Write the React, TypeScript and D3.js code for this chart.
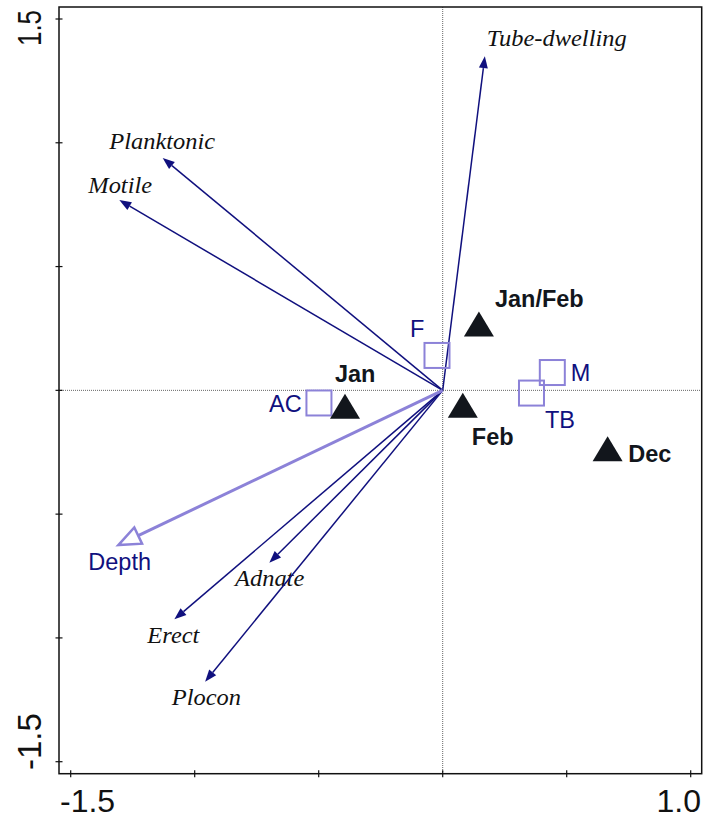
import React from "react";
import * as d3 from "d3";

// ---- data ----
const arrowNames = ["Tube-dwelling", "Planktonic", "Motile", "Adnate", "Erect", "Plocon"];
const arrowX = [0.17, -1.129, -1.304, -0.699, -1.082, -0.958];
const arrowY = [1.35, 0.939, 0.769, -0.696, -0.925, -1.177];

const envName = "Depth";
const envX = -1.308;
const envY = -0.625;

const monthNames = ["Jan/Feb", "Jan", "Feb", "Dec"];
const monthX = [0.146, -0.394, 0.081, 0.665];
const monthY = [0.267, -0.065, -0.061, -0.237];

const siteNames = ["F", "AC", "M", "TB"];
const siteX = [-0.023, -0.499, 0.442, 0.358];
const siteY = [0.141, -0.051, 0.072, -0.011];

const xTicks = [-1.5, -1.0, -0.5, 0, 0.5, 1.0];
const yTicks = [-1.5, -1.0, -0.5, 0, 0.5, 1.0, 1.5];
const xTickLabels = ["-1.5", "1.0"];
const yTickLabels = ["-1.5", "1.5"];

// ---- styles (label offsets in px) ----
const arrowLabelOffsets: [number, number][] = [
  [2, -10], [-53.4, -8.4], [-31, -7.3], [-34.3, 23.3], [-27, 24], [-33.3, 23.3],
];
const monthLabelOffsets: [number, number][] = [[16, -17.5], [-10, -24.8], [9, 39.5], [20.6, 12.8]];
const siteLabelOffsets: [number, number, string][] = [
  [-27, -18.8, "start"], [-17.3, 8.7, "end"], [18.5, 8.2, "start"], [13.5, 35.3, "start"],
];

const NAVY = "#10107e";
const PURPLE = "#8c82d8";
const BLACK = "#12161c";

export default function App() {
  const W = 705, H = 818;
  const box = { l: 59, r: 701.7, t: 7, b: 773.7 };
  const x = d3.scaleLinear().domain([-1.5, 1.0]).range([70.7, 690.7]);
  const y = d3.scaleLinear().domain([-1.5, 1.5]).range([761.7, 19]);
  const x0 = x(0), y0 = y(0);

  const head = (tx: number, ty: number, len: number, hw: number) => {
    const dx = tx - x0, dy = ty - y0;
    const L = Math.hypot(dx, dy);
    const ux = dx / L, uy = dy / L;
    const bx = tx - ux * len, by = ty - uy * len;
    const px = -uy, py = ux;
    return {
      bx, by,
      d: `M${tx},${ty}L${bx + px * hw},${by + py * hw}L${bx - px * hw},${by - py * hw}Z`,
    };
  };

  const sans = "'Liberation Sans', Arial, sans-serif";
  const serif = "'Liberation Serif', 'Times New Roman', serif";

  const envHead = head(x(envX), y(envY), 22, 9);

  return (
    <svg width={W} height={H} style={{ position: "absolute", left: 0, top: 0, background: "#fff" }}>
      <rect x={0} y={0} width={W} height={H} fill="#fff" />
      {/* zero lines */}
      <line x1={x0} x2={x0} y1={box.t} y2={box.b} stroke="#666" strokeWidth={1} strokeDasharray="1,1" />
      <line x1={box.l} x2={box.r} y1={y0} y2={y0} stroke="#666" strokeWidth={1} strokeDasharray="1,1" />

      {/* box */}
      <rect x={box.l} y={box.t} width={box.r - box.l} height={box.b - box.t} fill="none" stroke="#111" strokeWidth={1.5} />
      {xTicks.map((t, i) => (
        <line key={"xt" + i} x1={x(t)} x2={x(t)} y1={box.b - 3.5} y2={box.b + 3.5} stroke="#111" strokeWidth={1.2} />
      ))}
      {yTicks.map((t, i) => (
        <line key={"yt" + i} x1={box.l - 3.5} x2={box.l + 3.5} y1={y(t)} y2={y(t)} stroke="#111" strokeWidth={1.2} />
      ))}
      <text x={60} y={812} fontFamily={sans} fontSize={32} fill="#111">{xTickLabels[0]}</text>
      <text x={701} y={812} fontFamily={sans} fontSize={32} fill="#111" textAnchor="end">{xTickLabels[1]}</text>
      <text transform={`translate(41,770) rotate(-90)`} fontFamily={sans} fontSize={33} fill="#111">{yTickLabels[0]}</text>
      <text transform={`translate(41,10) rotate(-90)`} fontFamily={sans} fontSize={33} fill="#111" textAnchor="end"
        textLength={36} lengthAdjust="spacingAndGlyphs">{yTickLabels[1]}</text>

      {/* species arrows */}
      {arrowNames.map((n, i) => {
        const tx = x(arrowX[i]), ty = y(arrowY[i]);
        const h = head(tx, ty, 12, 4.5);
        const lx = tx + arrowLabelOffsets[i][0];
        return (
          <g key={n}>
            <line x1={x0} y1={y0} x2={h.bx} y2={h.by} stroke={NAVY} strokeWidth={1.5} />
            <path d={h.d} fill={NAVY} />
            <text x={lx} y={ty + arrowLabelOffsets[i][1]} fontFamily={serif}
              fontStyle="italic" fontSize={23.5} fill="#111"
              transform={`translate(${lx},0) scale(1.04,1) translate(${-lx},0)`}>
              {n}
            </text>
          </g>
        );
      })}

      {/* environmental arrow */}
      <line x1={x0} y1={y0} x2={envHead.bx} y2={envHead.by} stroke={PURPLE} strokeWidth={3} />
      <path d={envHead.d} fill="#fff" stroke={PURPLE} strokeWidth={2.5} strokeLinejoin="miter" />
      <text x={x(envX) - 30} y={y(envY) + 25} fontFamily={sans} fontSize={23.5} fill={NAVY}>{envName}</text>

      {/* sites */}
      {siteNames.map((n, i) => {
        const cx = x(siteX[i]), cy = y(siteY[i]);
        return (
          <g key={n}>
            <rect x={cx - 12.5} y={cy - 12.5} width={25} height={25} fill="none" stroke={PURPLE} strokeWidth={2} />
            <text x={cx + siteLabelOffsets[i][0]} y={cy + siteLabelOffsets[i][1]} fontFamily={sans} fontSize={23.5}
              fill={NAVY} textAnchor={siteLabelOffsets[i][2] as any}>{n}</text>
          </g>
        );
      })}

      {/* months */}
      {monthNames.map((n, i) => {
        const cx = x(monthX[i]), cy = y(monthY[i]);
        return (
          <g key={n}>
            <path d={`M${cx},${cy - 12.8}L${cx + 15},${cy + 12.2}L${cx - 15},${cy + 12.2}Z`} fill={BLACK} />
            <text x={cx + monthLabelOffsets[i][0]} y={cy + monthLabelOffsets[i][1]} fontFamily={sans} fontSize={23.5}
              fontWeight="bold" fill={BLACK}>{n}</text>
          </g>
        );
      })}
    </svg>
  );
}
